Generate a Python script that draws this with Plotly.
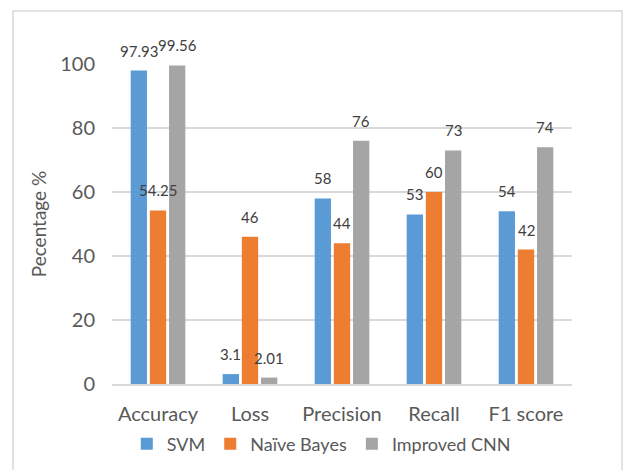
import plotly.graph_objects as go

categories = ["Accuracy", "Loss", "Precision", "Recall", "F1 score"]
svm = [97.93, 3.1, 58, 53, 54]
naive_bayes = [54.25, 46, 44, 60, 42]
improved_cnn = [99.56, 2.01, 76, 73, 74]
series_names = ["SVM", "Naïve Bayes", "Improved CNN"]
colors = ["#5B9BD5", "#ED7D31", "#A5A5A5"]
y_ticks = [0, 20, 40, 60, 80, 100]

FONT = "Lato"
TXT = "#595959"

fig = go.Figure()
all_series = [svm, naive_bayes, improved_cnn]
for name, vals, col in zip(series_names, all_series, colors):
    fig.add_trace(go.Bar(x=categories, y=vals, name=name, marker_color=col,
                         marker_line_width=0))

# data labels
plot_w = 460
slot = plot_w / len(categories) * (1 - 0.375) / 3
for i, vals in enumerate(all_series):
    for c, v in zip(categories, vals):
        fig.add_annotation(x=c, y=v, text=f"{v:g}", showarrow=False,
                           xshift=(i - 1) * slot, yshift=20,
                           font=dict(family=FONT, size=15, color="#404040"))

fig.add_shape(type="rect", xref="paper", yref="paper",
              x0=(13 - 112) / 460, x1=(622 - 112) / 460,
              y0=(384 - 475) / 320, y1=(384 - 11) / 320,
              line=dict(color="#D9D9D9", width=1.5), fillcolor="rgba(0,0,0,0)",
              layer="below")

fig.update_layout(
    width=624, height=470,
    margin=dict(l=112, r=52, t=64, b=86, autoexpand=False),
    paper_bgcolor="white", plot_bgcolor="white",
    barmode="group", bargap=0.375, bargroupgap=0.15,
    font=dict(family=FONT, color=TXT),
    showlegend=True,
    legend=dict(orientation="h", x=0.455, xanchor="center", y=-0.13, yanchor="top",
                font=dict(family=FONT, size=18, color=TXT), itemwidth=30,
                bgcolor="rgba(0,0,0,0)", traceorder="normal"),
    xaxis=dict(showgrid=False, showline=True, linecolor="#D9D9D9", linewidth=1.5,
               ticks="", tickfont=dict(family=FONT, size=20, color=TXT),
               ticklabelstandoff=11, automargin=False),
    yaxis=dict(range=[0, 100], tickvals=y_ticks, showgrid=True, gridcolor="#D9D9D9",
               gridwidth=1.5, zeroline=False, showline=False, ticks="",
               tickfont=dict(family=FONT, size=20, color=TXT), ticklabelstandoff=16,
               automargin=False,
               title=dict(text="Pecentage %", font=dict(family=FONT, size=19, color=TXT),
                          standoff=8)),
)

fig.write_html("out.html")
